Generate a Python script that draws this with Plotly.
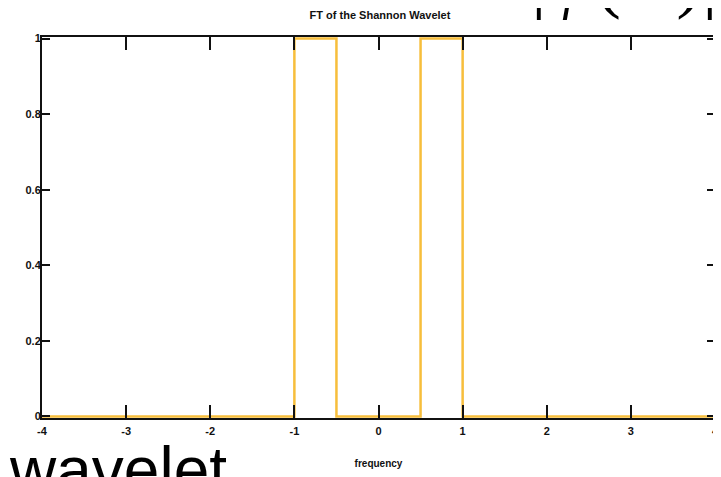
import plotly.graph_objects as go

# Data: FT magnitude of the Shannon wavelet (step function edges)
freq_edges = [-4, -1, -0.5, 0.5, 1, 4]
magnitude = [0, 1, 0, 1, 0, 0]

x_ticks = [-4, -3, -2, -1, 0, 1, 2, 3, 4]
x_tick_labels = ["-4", "-3", "-2", "-1", "0", "1", "2", "3", "4"]
y_ticks = [0, 0.2, 0.4, 0.6, 0.8, 1]
y_tick_labels = ["0", "0.2", "0.4", "0.6", "0.8", "1"]

title_text = "FT of the Shannon Wavelet"
x_label = "frequency"
slide_word = "wavelet"
slide_formula = "|<i>ψ</i>(<i>ω</i>)|"

# page body has an 8px default margin; figure is sized to fill the window
OFF = 8
PW, PH = 721, 477
FW, FH = PW - OFF, PH - OFF
# plot area in page pixels
P_LEFT, P_RIGHT, P_TOP, P_BOTTOM = 42, 715, 37, 418
L, T = P_LEFT - OFF, P_TOP - OFF
R, B = FW - (P_RIGHT - OFF), FH - (P_BOTTOM - OFF)
plot_w = P_RIGHT - P_LEFT
plot_h = P_BOTTOM - P_TOP

small_font = "Liberation Sans, Arial, sans-serif"

def px_to_paper(px, py):
    return (px - P_LEFT) / plot_w, (P_BOTTOM - py) / plot_h

fig = go.Figure()
fig.add_trace(go.Scatter(
    x=freq_edges, y=magnitude, mode="lines",
    line=dict(color="#F7BE3C", width=2.5, shape="hv"),
    hoverinfo="skip", showlegend=False,
))

fig.update_layout(
    width=FW, height=FH,
    margin=dict(l=L, r=R, t=T, b=B, autoexpand=False),
    paper_bgcolor="white", plot_bgcolor="white",
    showlegend=False,
    title=dict(text=title_text, x=(380 - P_LEFT) / plot_w, xref="paper", xanchor="center",
               y=1 - (15 - OFF) / FH, yanchor="middle",
               font=dict(family=small_font, size=11, color="#111", weight="bold")),
    xaxis=dict(range=[-4, 4], tickmode="array", tickvals=x_ticks, ticktext=x_tick_labels,
               automargin=False, ticklabelstandoff=2,
               ticks="inside", ticklen=13, tickwidth=1.5, tickcolor="#111",
               showline=True, linecolor="#111", linewidth=2, mirror="ticks",
               showgrid=False, zeroline=False,
               tickfont=dict(family=small_font, size=11, color="#111", weight="bold"),
               title=dict(text=x_label, standoff=24,
                          font=dict(family=small_font, size=10, color="#111", weight="bold"))),
    yaxis=dict(range=[-0.004, 1.004], tickmode="array", tickvals=y_ticks, ticktext=y_tick_labels,
               automargin=False, ticklabelstandoff=-3,
               ticks="inside", ticklen=8, tickwidth=1.5, tickcolor="#111",
               showline=True, linecolor="#111", linewidth=2, mirror="ticks",
               showgrid=False, zeroline=False,
               tickfont=dict(family=small_font, size=11, color="#111", weight="bold")),
)

wx, wy = px_to_paper(7, 470)
fig.add_annotation(text=slide_word, xref="paper", yref="paper", x=wx, y=wy,
                   xanchor="left", yanchor="middle", showarrow=False,
                   font=dict(family="Liberation Sans, Arial, sans-serif", size=64, color="black"))

fx, fy = px_to_paper(720, -24)
fig.add_annotation(text=slide_formula, xref="paper", yref="paper", x=fx, y=fy,
                   xanchor="right", yanchor="middle", showarrow=False,
                   font=dict(family="Liberation Serif, Times New Roman, serif", size=78, color="black"))

fig.write_html("out.html")
